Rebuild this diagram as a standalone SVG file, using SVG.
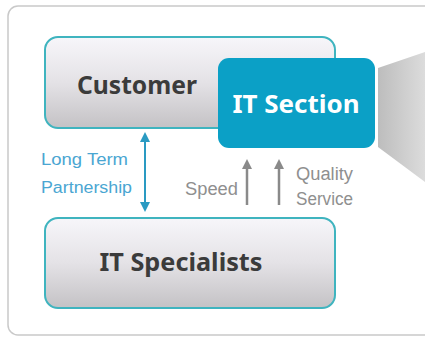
<svg xmlns="http://www.w3.org/2000/svg" width="425" height="340" viewBox="0 0 425 340">
<defs>
<linearGradient id="gBox" x1="0" y1="0" x2="0" y2="1">
<stop offset="0" stop-color="#f7f6fa"/>
<stop offset="0.5" stop-color="#e4e2e6"/>
<stop offset="1" stop-color="#c4c2c5"/>
</linearGradient>
<linearGradient id="gTrap" x1="0" y1="0" x2="1" y2="0">
<stop offset="0" stop-color="#bdbdbd"/>
<stop offset="1" stop-color="#dcdcdc"/>
</linearGradient>
<marker id="aBlue" viewBox="0 0 10 10" refX="5" refY="5" markerWidth="10" markerHeight="10" markerUnits="userSpaceOnUse" orient="auto-start-reverse">
<path d="M0,0 L10,5 L0,10 Z" fill="#2a9ac2"/>
</marker>
<marker id="aGrey" viewBox="0 0 10 10" refX="5" refY="5" markerWidth="10" markerHeight="10" markerUnits="userSpaceOnUse" orient="auto">
<path d="M0,0 L10,5 L0,10 Z" fill="#8a8a8a"/>
</marker>
</defs>
<style>
.frame{fill:#ffffff;stroke:#c9c9c9;stroke-width:1.5}
.box{fill:url(#gBox);stroke:#3fb4bf;stroke-width:2}
.hl{fill:#0ba0c6}
.t{font-family:"Noto Sans","Liberation Sans",sans-serif;font-weight:bold;text-anchor:middle}
.dark{fill:#3b3b3b}
.blue{font-family:"Liberation Sans",Arial,sans-serif;font-size:16px;fill:#4aa6d2}
.grey{font-family:"Liberation Sans",Arial,sans-serif;font-size:18px;fill:#8f8f8f}
</style>
<rect x="8" y="6" width="430" height="329" rx="10" class="frame"/>
<polygon points="378,68 425,52 425,182 378,147" fill="url(#gTrap)"/>
<g id="customer">
<rect x="45" y="37" width="290" height="91" rx="13" class="box"/>
<text x="137" y="94" class="t dark" font-size="25" textLength="120" lengthAdjust="spacingAndGlyphs">Customer</text>
</g>
<g id="it-section">
<rect x="218" y="58" width="157" height="90" rx="11" class="hl"/>
<text x="296" y="113" class="t" font-size="25" fill="#ffffff" textLength="127" lengthAdjust="spacingAndGlyphs">IT Section</text>
</g>
<g id="it-specialists">
<rect x="45" y="218" width="290" height="90" rx="13" class="box"/>
<text x="181" y="271" class="t dark" font-size="25" textLength="163" lengthAdjust="spacingAndGlyphs">IT Specialists</text>
</g>
<g id="connectors">
<line x1="145" y1="137" x2="145" y2="207" stroke="#2a9ac2" stroke-width="2" marker-start="url(#aBlue)" marker-end="url(#aBlue)"/>
<line x1="247" y1="205" x2="247" y2="164" stroke="#8a8a8a" stroke-width="2.5" marker-end="url(#aGrey)"/>
<line x1="279" y1="205" x2="279" y2="164" stroke="#8a8a8a" stroke-width="2.5" marker-end="url(#aGrey)"/>
</g>
<text x="41" y="165" class="blue" textLength="87" lengthAdjust="spacingAndGlyphs">Long Term</text>
<text x="41" y="193" class="blue" textLength="91" lengthAdjust="spacingAndGlyphs">Partnership</text>
<text x="185" y="195" class="grey" textLength="53" lengthAdjust="spacingAndGlyphs">Speed</text>
<text x="296" y="180" class="grey" textLength="57" lengthAdjust="spacingAndGlyphs">Quality</text>
<text x="296" y="205" class="grey" textLength="57" lengthAdjust="spacingAndGlyphs">Service</text>
</svg>
